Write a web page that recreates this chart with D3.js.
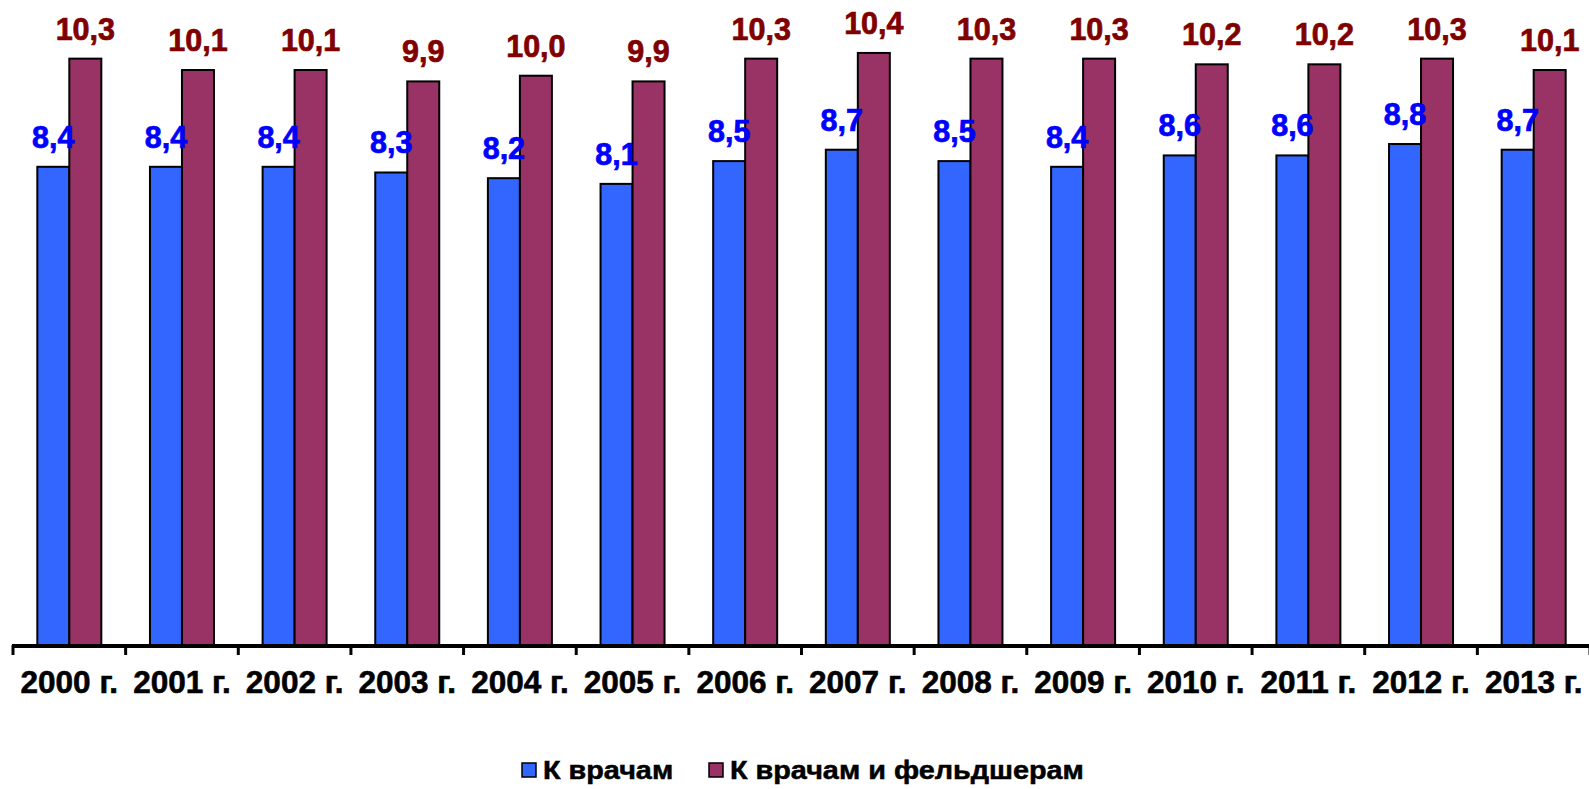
<!DOCTYPE html>
<html>
<head>
<meta charset="utf-8">
<script src="https://cdn.jsdelivr.net/npm/d3@7"></script>
<style>
  html, body { margin: 0; padding: 0; background: #fff; overflow: hidden; }
  svg { display: block; }
  text { font-family: "Liberation Sans", Arial, sans-serif; font-weight: bold; }
</style>
</head>
<body>
<svg id="chart" width="1589" height="789"></svg>
<script>
const years = ["2000 г.","2001 г.","2002 г.","2003 г.","2004 г.","2005 г.","2006 г.","2007 г.","2008 г.","2009 г.","2010 г.","2011 г.","2012 г.","2013 г."];
const seriesNames = ["К врачам", "К врачам и фельдшерам"];
const doctors = [8.4, 8.4, 8.4, 8.3, 8.2, 8.1, 8.5, 8.7, 8.5, 8.4, 8.6, 8.6, 8.8, 8.7];
const doctorsAndFeldshers = [10.3, 10.1, 10.1, 9.9, 10.0, 9.9, 10.3, 10.4, 10.3, 10.3, 10.2, 10.2, 10.3, 10.1];

const fills = ["#3366FF", "#993366"];
const labelColors = ["#0000FF", "#800000"];

const svg = d3.select("#chart");
const baseline = 645;

const x = d3.scaleBand().domain(years).range([13, 1590]).paddingInner(0).paddingOuter(0);
const bw = x.bandwidth();
const groupW = 64;
const xs = d3.scaleBand().domain(seriesNames).range([(bw - groupW) / 2, (bw + groupW) / 2]).padding(0);
const y = d3.scaleLinear().domain([0, 11.33]).range([baseline, 0]);

const fmt = v => d3.format(".1f")(v).replace(".", ",");

const data = years.map((yr, i) => ({ yr, vals: [doctors[i], doctorsAndFeldshers[i]] }));

const groups = svg.append("g").selectAll("g").data(data).join("g")
  .attr("transform", d => `translate(${x(d.yr)},0)`);

groups.selectAll("rect").data(d => d.vals.map((v, j) => ({ v, j }))).join("rect")
  .attr("x", d => xs(seriesNames[d.j]))
  .attr("y", d => y(d.v))
  .attr("width", xs.bandwidth())
  .attr("height", d => baseline - y(d.v))
  .attr("fill", d => fills[d.j])
  .attr("stroke", "#000")
  .attr("stroke-width", 2);

groups.selectAll("text.val").data(d => d.vals.map((v, j) => ({ v, j }))).join("text")
  .attr("class", "val")
  .attr("x", d => xs(seriesNames[d.j]) + xs.bandwidth() / 2)
  .attr("y", d => y(d.v) - 19)
  .attr("text-anchor", "middle")
  .attr("font-size", 30.5)
  .attr("fill", d => labelColors[d.j])
  .attr("stroke", d => labelColors[d.j])
  .attr("stroke-width", 0.7)
  .text(d => fmt(d.v));

// x axis
const axis = d3.axisBottom(x).tickSize(0).tickPadding(0);
const axG = svg.append("g").attr("transform", `translate(0,${baseline + 1})`).call(axis);
axG.select(".domain").attr("stroke", "#000").attr("stroke-width", 4)
  .attr("d", `M12,0H1590`);
axG.selectAll(".tick line").remove();
axG.selectAll(".tick text")
  .attr("font-size", 31.5)
  .attr("fill", "#000")
  .attr("stroke", "#000")
  .attr("stroke-width", 0.6)
  .attr("y", 47)
  .attr("dy", 0)
  .style("font-family", '"Liberation Sans", Arial, sans-serif')
  .style("font-weight", "bold");

// tick marks at band boundaries
const boundaries = years.map(yr => x(yr)).concat([x(years[years.length - 1]) + bw]);
svg.append("g").selectAll("line").data(boundaries).join("line")
  .attr("x1", d => d).attr("x2", d => d)
  .attr("y1", baseline).attr("y2", baseline + 10)
  .attr("stroke", "#000").attr("stroke-width", 3);

// legend
const legend = svg.append("g");
const legendX = [522, 709];
seriesNames.forEach((name, j) => {
  const g = legend.append("g").attr("transform", `translate(${legendX[j]},763)`);
  g.append("rect").attr("x", 0).attr("y", 0).attr("width", 14).attr("height", 14)
    .attr("fill", fills[j]).attr("stroke", "#000").attr("stroke-width", 1.5);
  g.append("text").attr("transform", "translate(21,16) scale(1.13,1)")
    .attr("font-size", 25.5).attr("fill", "#000")
    .attr("stroke", "#000").attr("stroke-width", 0.5).text(name);
});
</script>
</body>
</html>
